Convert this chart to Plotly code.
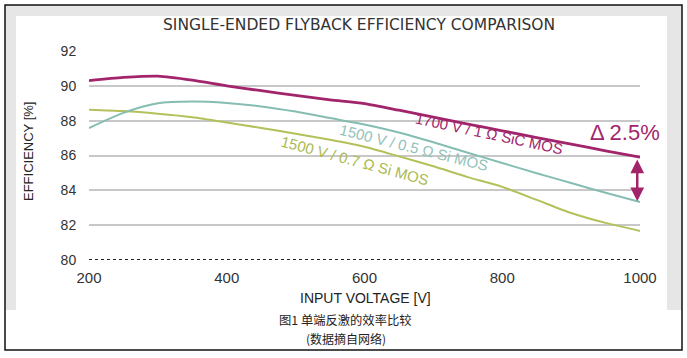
import plotly.graph_objects as go

# ---- data ----
voltage = [200, 250, 300, 350, 400, 450, 500, 550, 600, 650, 700, 750, 800, 850, 900, 950, 1000]
sic_1700 = [90.30, 90.48, 90.56, 90.33, 90.00, 89.72, 89.45, 89.20, 88.98, 88.60, 88.20, 87.80, 87.42, 87.03, 86.65, 86.27, 85.90]
si_1500_05 = [87.58, 88.45, 89.00, 89.10, 89.02, 88.82, 88.52, 88.15, 87.78, 87.32, 86.76, 86.16, 85.57, 84.98, 84.42, 83.86, 83.33]
si_1500_07 = [88.63, 88.55, 88.40, 88.20, 87.90, 87.58, 87.25, 86.90, 86.50, 85.95, 85.38, 84.76, 84.20, 83.45, 82.70, 82.13, 81.67]

series_names = ["1700 V / 1 Ω SiC MOS", "1500 V / 0.5 Ω Si MOS", "1500 V / 0.7 Ω Si MOS"]
x_ticks = [200, 400, 600, 800, 1000]
y_ticks = [80, 82, 84, 86, 88, 90, 92]
delta_label = "Δ 2.5%"

title_text = "SINGLE-ENDED FLYBACK EFFICIENCY COMPARISON"
x_title = "INPUT VOLTAGE [V]"
y_title = "EFFICIENCY [%]"
caption1 = "图1 单端反激的效率比较"
caption2 = "(数据摘自网络)"

# ---- styling ----
W, H = 687, 358
ML, MR, MT, MB = 89, 47, 51, 98
C_SIC = "#a2256c"
C_TEAL = "#86bdb3"
C_YEL = "#b4c15a"
FONT = "Liberation Sans, Arial, sans-serif"


def px(x):
    return (x - ML) / (W - ML - MR)


def py(y):
    return (H - MB - y) / (H - MT - MB)


fig = go.Figure()
fig.add_trace(go.Scatter(x=voltage, y=si_1500_07, mode="lines", name=series_names[2],
                         line=dict(color=C_YEL, width=2, shape="spline", smoothing=0.7)))
fig.add_trace(go.Scatter(x=voltage, y=si_1500_05, mode="lines", name=series_names[1],
                         line=dict(color=C_TEAL, width=2, shape="spline", smoothing=0.7)))
fig.add_trace(go.Scatter(x=voltage, y=sic_1700, mode="lines", name=series_names[0],
                         line=dict(color=C_SIC, width=2.8, shape="spline", smoothing=0.7)))

shapes = [
    # grey frame
    dict(type="rect", xref="paper", yref="paper", x0=px(5), x1=px(682), y0=py(310), y1=py(5),
         fillcolor="#e6e6e6", line=dict(width=0), layer="below"),
    dict(type="rect", xref="paper", yref="paper", x0=px(16), x1=px(667), y0=py(311), y1=py(16),
         fillcolor="white", line=dict(width=0), layer="below"),
    # black outer border
    dict(type="rect", xref="paper", yref="paper", x0=px(5), x1=px(682), y0=py(350), y1=py(5),
         fillcolor="rgba(0,0,0,0)", line=dict(color="#111111", width=1.5), layer="above"),
    # dotted baseline at 80
    dict(type="line", xref="paper", yref="y", x0=0, x1=1, y0=80, y1=80,
         line=dict(color="#222222", width=2, dash="dot"), layer="above"),
]

annotations = [
    dict(text=title_text, xref="paper", yref="paper", x=px(359), y=py(25), showarrow=False,
         font=dict(family="DejaVu Sans", size=15.5, color="#333333"), xanchor="center", yanchor="middle"),
    dict(text=y_title, xref="paper", yref="paper", x=px(28), y=py(152), showarrow=False, textangle=-90,
         font=dict(family=FONT, size=13, color="#222222"), xanchor="center", yanchor="middle"),
    dict(text=x_title, xref="paper", yref="paper", x=px(365), y=py(298), showarrow=False,
         font=dict(family=FONT, size=14, color="#222222"), xanchor="center", yanchor="middle"),
    dict(text=caption1, xref="paper", yref="paper", x=px(345), y=py(320), showarrow=False,
         font=dict(family="Noto Sans CJK SC", size=12.3, color="#222222"), xanchor="center", yanchor="middle"),
    dict(text=caption2, xref="paper", yref="paper", x=px(346), y=py(338), showarrow=False,
         font=dict(family="Noto Sans CJK SC", size=12, color="#222222"), xanchor="center", yanchor="middle"),
    # series labels
    dict(text=series_names[0], xref="paper", yref="paper", x=px(489), y=py(133), showarrow=False, textangle=12,
         font=dict(family=FONT, size=15, color=C_SIC), xanchor="center", yanchor="middle"),
    dict(text=series_names[1], xref="paper", yref="paper", x=px(414), y=py(147), showarrow=False, textangle=14,
         font=dict(family=FONT, size=15, color="#93c2ba"), xanchor="center", yanchor="middle"),
    dict(text=series_names[2], xref="paper", yref="paper", x=px(355), y=py(160), showarrow=False, textangle=15,
         font=dict(family=FONT, size=15, color="#aab94e"), xanchor="center", yanchor="middle"),
    dict(text=delta_label, xref="paper", yref="paper", x=px(625), y=py(132), showarrow=False,
         font=dict(family=FONT, size=22, color=C_SIC), xanchor="center", yanchor="middle"),
    # double-headed arrow between SiC and Si at 1000 V
    dict(x=voltage[-1] - 4, y=si_1500_05[-1] + 0.05, ax=voltage[-1] - 4, ay=sic_1700[-1] - 0.05,
         xref="x", yref="y", axref="x", ayref="y", text="", showarrow=True,
         arrowhead=2, arrowside="end+start", arrowsize=1.1, arrowwidth=2.5, arrowcolor=C_SIC),
]

fig.update_layout(
    width=W, height=H,
    margin=dict(l=ML, r=MR, t=MT, b=MB),
    paper_bgcolor="white", plot_bgcolor="rgba(0,0,0,0)",
    showlegend=False,
    shapes=shapes, annotations=annotations,
    xaxis=dict(range=[200, 1000], tickvals=x_ticks, showgrid=False, zeroline=False, showline=False,
               ticks="outside", ticklen=4, tickcolor="rgba(0,0,0,0)",
               tickfont=dict(family=FONT, size=15, color="#333333")),
    yaxis=dict(range=[80, 92], tickvals=y_ticks, showgrid=True, gridcolor="#c8c8c8", gridwidth=1.5,
               zeroline=False, showline=False,
               ticks="outside", ticklen=9, tickcolor="rgba(0,0,0,0)",
               tickfont=dict(family=FONT, size=14, color="#333333")),
)

fig.write_html("out.html", config={"displayModeBar": False},
               post_script="document.body.style.margin='0';document.body.style.overflow='hidden';")
